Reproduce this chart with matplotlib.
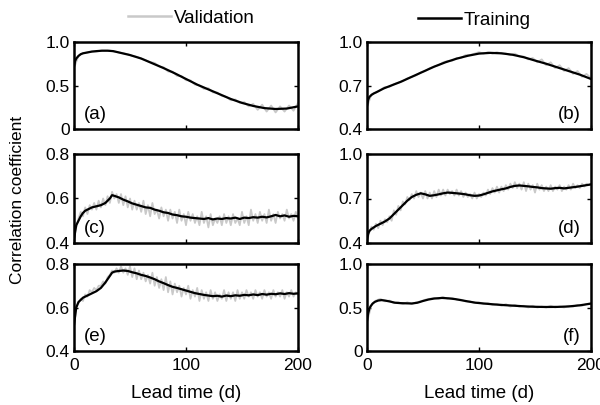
import numpy as np
import matplotlib
matplotlib.use("Agg")
import matplotlib.pyplot as plt
from matplotlib.lines import Line2D

plt.rcParams['font.family'] = ['Liberation Sans', 'DejaVu Sans']

# ---------------- data ----------------
# (a)
a_train_x = [0, 1, 2, 4, 6, 8, 12, 16, 20, 25, 30, 35, 40, 50, 60, 70, 80, 90, 100, 110, 120,
             130, 140, 150, 160, 170, 180, 190, 200]
a_train_y = [0.72, 0.78, 0.81, 0.84, 0.86, 0.87, 0.88, 0.89, 0.895, 0.90, 0.90, 0.895, 0.88, 0.85,
             0.81, 0.755, 0.70, 0.64, 0.575, 0.51, 0.455, 0.40, 0.345, 0.30, 0.265, 0.24, 0.23,
             0.235, 0.26]
a_val_y = [0.70, 0.84, 0.87, 0.88, 0.89, 0.89, 0.90, 0.90, 0.90, 0.89, 0.88, 0.87, 0.86, 0.84,
           0.83, 0.81, 0.79, 0.77, 0.76, 0.72, 0.71, 0.66, 0.66, 0.61, 0.61, 0.56, 0.56, 0.51,
           0.50, 0.46, 0.47, 0.42, 0.42, 0.38, 0.37, 0.33, 0.34, 0.30, 0.31, 0.26, 0.29, 0.22,
           0.28, 0.20, 0.27, 0.19, 0.26, 0.20, 0.27, 0.21, 0.30]

# (b)
b_train_x = [0, 1, 2, 4, 6, 10, 15, 20, 30, 40, 50, 60, 70, 80, 90, 100, 110, 120, 130, 140,
             150, 160, 170, 180, 190, 200]
b_train_y = [0.56, 0.60, 0.62, 0.635, 0.645, 0.66, 0.68, 0.695, 0.725, 0.76, 0.795, 0.83, 0.86,
             0.885, 0.905, 0.92, 0.925, 0.922, 0.912, 0.895, 0.872, 0.85, 0.825, 0.80, 0.775,
             0.745]
b_val_y = [0.55, 0.64, 0.65, 0.67, 0.69, 0.69, 0.71, 0.72, 0.73, 0.75, 0.76, 0.77, 0.79, 0.80,
           0.82, 0.83, 0.84, 0.86, 0.87, 0.87, 0.89, 0.89, 0.91, 0.91, 0.92, 0.93, 0.92, 0.93,
           0.92, 0.93, 0.92, 0.92, 0.91, 0.92, 0.90, 0.90, 0.88, 0.89, 0.86, 0.88, 0.84, 0.86,
           0.82, 0.84, 0.80, 0.82, 0.78, 0.80, 0.76, 0.78, 0.75]

# (c)
c_train_x = [0, 1, 2, 4, 6, 8, 10, 12, 16, 20, 24, 28, 32, 34, 36, 40, 44, 48, 52, 56, 60, 64,
             68, 72, 76, 80, 84, 88, 92, 96, 100, 104, 108, 112, 116, 120, 124, 128, 132, 136,
             140, 144, 148, 152, 156, 160, 164, 168, 172, 176, 180, 184, 188, 192, 196, 200]
c_train_y = [0.41, 0.45, 0.48, 0.50, 0.52, 0.535, 0.545, 0.55, 0.56, 0.565, 0.57, 0.58, 0.60,
             0.615, 0.612, 0.605, 0.595, 0.587, 0.578, 0.572, 0.566, 0.56, 0.558, 0.55, 0.545,
             0.538, 0.535, 0.528, 0.525, 0.52, 0.518, 0.514, 0.512, 0.51, 0.508, 0.512, 0.506,
             0.51, 0.508, 0.512, 0.51, 0.514, 0.508, 0.514, 0.512, 0.516, 0.514, 0.518, 0.515,
             0.52, 0.526, 0.52, 0.524, 0.518, 0.522, 0.52]
c_val_y = [0.42, 0.47, 0.51, 0.54, 0.52, 0.56, 0.53, 0.57, 0.55, 0.58, 0.55, 0.59, 0.56, 0.60,
           0.57, 0.61, 0.58, 0.63, 0.60, 0.62, 0.58, 0.62, 0.57, 0.61, 0.56, 0.60, 0.55, 0.59,
           0.55, 0.58, 0.54, 0.59, 0.53, 0.57, 0.52, 0.58, 0.53, 0.55, 0.51, 0.56, 0.52, 0.55,
           0.50, 0.55, 0.51, 0.54, 0.49, 0.55, 0.50, 0.53, 0.48, 0.54, 0.50, 0.53, 0.49, 0.52,
           0.48, 0.54, 0.49, 0.52, 0.47, 0.53, 0.48, 0.51, 0.49, 0.52, 0.48, 0.53, 0.49, 0.52,
           0.48, 0.53, 0.49, 0.51, 0.48, 0.54, 0.49, 0.52, 0.48, 0.55, 0.50, 0.53, 0.49, 0.54,
           0.50, 0.53, 0.49, 0.55, 0.50, 0.53, 0.49, 0.54, 0.51, 0.53, 0.50, 0.55, 0.51, 0.53,
           0.50, 0.54, 0.51]

# (d)
d_train_x = [0, 1, 2, 4, 6, 8, 12, 16, 20, 24, 28, 32, 36, 40, 44, 48, 52, 56, 60, 64, 68, 72,
             76, 80, 84, 88, 92, 96, 100, 104, 108, 112, 116, 120, 124, 128, 132, 136, 140, 144,
             148, 152, 156, 160, 164, 168, 172, 176, 180, 184, 188, 192, 196, 200]
d_train_y = [0.42, 0.46, 0.48, 0.495, 0.505, 0.515, 0.53, 0.545, 0.565, 0.595, 0.625, 0.655,
             0.685, 0.71, 0.725, 0.735, 0.728, 0.718, 0.722, 0.728, 0.735, 0.74, 0.738, 0.735,
             0.732, 0.728, 0.722, 0.718, 0.72, 0.728, 0.738, 0.748, 0.755, 0.762, 0.768, 0.778,
             0.785, 0.788, 0.785, 0.782, 0.778, 0.775, 0.77, 0.768, 0.766, 0.77, 0.772, 0.768,
             0.772, 0.776, 0.78, 0.785, 0.79, 0.795]
d_val_y = [0.41, 0.47, 0.51, 0.49, 0.53, 0.50, 0.55, 0.52, 0.56, 0.54, 0.58, 0.55, 0.62, 0.59,
           0.65, 0.62, 0.68, 0.66, 0.71, 0.69, 0.73, 0.70, 0.75, 0.71, 0.74, 0.70, 0.75, 0.70,
           0.74, 0.70, 0.75, 0.71, 0.76, 0.72, 0.76, 0.72, 0.76, 0.73, 0.75, 0.72, 0.76, 0.72,
           0.75, 0.71, 0.74, 0.71, 0.73, 0.70, 0.74, 0.70, 0.73, 0.71, 0.74, 0.72, 0.76, 0.73,
           0.77, 0.74, 0.78, 0.74, 0.78, 0.75, 0.79, 0.76, 0.80, 0.77, 0.81, 0.77, 0.80, 0.76,
           0.81, 0.75, 0.80, 0.76, 0.79, 0.74, 0.80, 0.76, 0.79, 0.75, 0.78, 0.75, 0.79, 0.75,
           0.78, 0.76, 0.79, 0.75, 0.78, 0.76, 0.79, 0.76, 0.80, 0.77, 0.79, 0.77, 0.80, 0.78,
           0.80, 0.79, 0.80]

# (e)
e_train_x = [0, 1, 2, 4, 6, 8, 12, 16, 20, 24, 28, 32, 34, 36, 40, 44, 48, 52, 56, 60, 64, 68,
             72, 76, 80, 84, 88, 92, 96, 100, 104, 108, 112, 116, 120, 124, 128, 132, 136, 140,
             144, 148, 152, 156, 160, 164, 168, 172, 176, 180, 184, 188, 192, 196, 200]
e_train_y = [0.52, 0.56, 0.60, 0.625, 0.635, 0.645, 0.655, 0.665, 0.675, 0.69, 0.715, 0.745,
             0.76, 0.765, 0.768, 0.77, 0.768, 0.762, 0.757, 0.75, 0.745, 0.738, 0.73, 0.72,
             0.712, 0.703, 0.695, 0.69, 0.684, 0.678, 0.672, 0.666, 0.662, 0.658, 0.655, 0.652,
             0.654, 0.65, 0.655, 0.652, 0.656, 0.654, 0.658, 0.656, 0.66, 0.657, 0.662, 0.659,
             0.663, 0.661, 0.665, 0.662, 0.666, 0.663, 0.665]
e_val_y = [0.51, 0.60, 0.62, 0.64, 0.63, 0.66, 0.65, 0.68, 0.67, 0.69, 0.68, 0.70, 0.70, 0.72,
           0.71, 0.74, 0.75, 0.77, 0.76, 0.78, 0.76, 0.79, 0.76, 0.78, 0.75, 0.79, 0.74, 0.78,
           0.73, 0.77, 0.73, 0.76, 0.72, 0.75, 0.71, 0.76, 0.70, 0.74, 0.69, 0.73, 0.68, 0.74,
           0.67, 0.72, 0.66, 0.71, 0.67, 0.70, 0.65, 0.69, 0.66, 0.70, 0.64, 0.68, 0.65, 0.69,
           0.63, 0.68, 0.64, 0.67, 0.63, 0.68, 0.64, 0.67, 0.63, 0.66, 0.64, 0.68, 0.63, 0.67,
           0.64, 0.67, 0.63, 0.68, 0.64, 0.67, 0.64, 0.68, 0.65, 0.67, 0.64, 0.68, 0.65, 0.67,
           0.64, 0.68, 0.65, 0.67, 0.64, 0.68, 0.65, 0.67, 0.65, 0.68, 0.64, 0.67, 0.65, 0.68,
           0.65, 0.67, 0.66]

# (f)
f_train_x = [0, 1, 2, 3, 5, 7, 10, 13, 16, 20, 25, 30, 35, 40, 45, 50, 55, 60, 67, 73, 79, 85,
             90, 97, 105, 114, 123, 132, 141, 150, 160, 170, 180, 190, 200]
f_train_y = [0.35, 0.43, 0.48, 0.51, 0.545, 0.565, 0.58, 0.585, 0.58, 0.57, 0.555, 0.55, 0.548,
             0.546, 0.555, 0.575, 0.592, 0.603, 0.61, 0.605, 0.596, 0.582, 0.57, 0.555, 0.545,
             0.535, 0.527, 0.52, 0.513, 0.508, 0.506, 0.507, 0.512, 0.525, 0.545]
f_val_y = [0.33, 0.53, 0.58, 0.60, 0.57, 0.58, 0.55, 0.56, 0.54, 0.56, 0.54, 0.56, 0.57, 0.59,
           0.60, 0.61, 0.60, 0.62, 0.60, 0.61, 0.59, 0.59, 0.57, 0.57, 0.55, 0.56, 0.54, 0.55,
           0.53, 0.54, 0.52, 0.54, 0.51, 0.53, 0.51, 0.52, 0.50, 0.52, 0.50, 0.51, 0.50, 0.52,
           0.50, 0.51, 0.50, 0.52, 0.51, 0.53, 0.52, 0.54, 0.55]

panels = [
    ("(a)", a_train_x, a_train_y, a_val_y, (0, 1.0), [0, 0.5, 1.0], ["0", "0.5", "1.0"], "left"),
    ("(b)", b_train_x, b_train_y, b_val_y, (0.4, 1.0), [0.4, 0.7, 1.0], ["0.4", "0.7", "1.0"], "right"),
    ("(c)", c_train_x, c_train_y, c_val_y, (0.4, 0.8), [0.4, 0.6, 0.8], ["0.4", "0.6", "0.8"], "left"),
    ("(d)", d_train_x, d_train_y, d_val_y, (0.4, 1.0), [0.4, 0.7, 1.0], ["0.4", "0.7", "1.0"], "right"),
    ("(e)", e_train_x, e_train_y, e_val_y, (0.4, 0.8), [0.4, 0.6, 0.8], ["0.4", "0.6", "0.8"], "left"),
    ("(f)", f_train_x, f_train_y, f_val_y, (0, 1.0), [0, 0.5, 1.0], ["0", "0.5", "1.0"], "right"),
]
x_ticks = [0, 100, 200]
x_ticklabels = ["0", "100", "200"]

# ---------------- layout ----------------
fig = plt.figure(figsize=(6.0, 4.05), dpi=100)
lefts = [74 / 600, 367 / 600]
width = 224 / 600
rows = [(42, 129), (154, 243), (264, 351)]

FS_TICK = 12.5
FS_LAB = 13.5
val_color = "#c9c9c9"
for i, (lab, tx, ty, vy, ylim, yt, ytl, side) in enumerate(panels):
    r, c = divmod(i, 2)
    top, bot = rows[r]
    ax = fig.add_axes([lefts[c], (405 - bot) / 405, width, (bot - top) / 405])
    vx = np.linspace(0, 200, len(vy))
    ax.plot(vx, vy, color=val_color, lw=1.3, zorder=2)
    ax.plot(tx, ty, color="black", lw=1.6, zorder=3)
    ax.set_xlim(0, 200)
    ax.set_ylim(*ylim)
    ax.set_yticks(yt)
    ax.set_yticklabels(ytl, fontsize=FS_TICK)
    ax.set_xticks(x_ticks)
    if r == 2:
        ax.set_xticklabels(x_ticklabels, fontsize=FS_TICK)
        ax.set_xlabel("Lead time (d)", fontsize=FS_LAB, labelpad=9)
    else:
        ax.set_xticklabels([])
    ax.tick_params(direction="in", length=3, width=1, top=True, right=True)
    ax.tick_params(axis="x", pad=5)
    ax.tick_params(axis="y", pad=3)
    for s in ax.spines.values():
        s.set_linewidth(1.8)
    if side == "left":
        ax.text(0.045, 0.07, lab, transform=ax.transAxes, fontsize=13.5, ha="left", va="bottom")
    else:
        ax.text(0.955, 0.07, lab, transform=ax.transAxes, fontsize=13.5, ha="right", va="bottom")

fig.text(0.03, (405 - 200) / 405, "Correlation coefficient", rotation=90,
         fontsize=12.5, ha="center", va="center")

h_val = Line2D([], [], color=val_color, lw=1.8)
h_tr = Line2D([], [], color="black", lw=1.8)
fig.legend(handles=[h_val], labels=["Validation"], loc="center left",
           bbox_to_anchor=(128 / 600, (405 - 18) / 405), frameon=False, fontsize=FS_LAB,
           handlelength=2.3, handletextpad=0.15, borderpad=0, borderaxespad=0)
fig.legend(handles=[h_tr], labels=["Training"], loc="center left",
           bbox_to_anchor=(418 / 600, (405 - 20) / 405), frameon=False, fontsize=FS_LAB,
           handlelength=2.3, handletextpad=0.15, borderpad=0, borderaxespad=0)

fig.savefig("out.png", dpi=100)
